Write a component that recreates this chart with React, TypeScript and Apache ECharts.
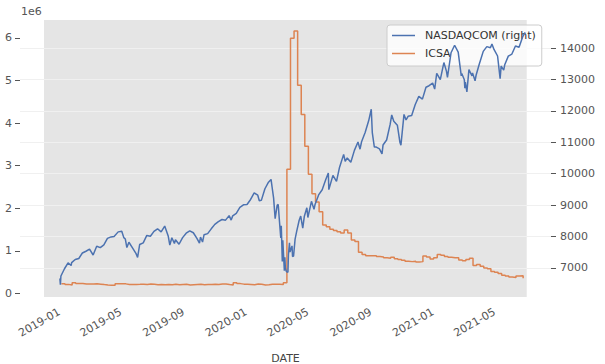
import React, { useEffect, useRef } from 'react';
import * as echarts from 'echarts';

// NASDAQCOM close (date, value)
const NASDAQ: [string, number][] = [
  ['2019-01-02', 6665], ['2019-01-03', 6463], ['2019-01-04', 6739], ['2019-01-11', 6971], ['2019-01-18', 7157],
  ['2019-01-24', 7073], ['2019-01-25', 7165], ['2019-02-01', 7264], ['2019-02-08', 7298], ['2019-02-15', 7473],
  ['2019-02-22', 7528], ['2019-03-01', 7595], ['2019-03-08', 7409], ['2019-03-15', 7689], ['2019-03-22', 7643],
  ['2019-03-29', 7729], ['2019-04-05', 7939], ['2019-04-12', 7985], ['2019-04-18', 7998], ['2019-04-26', 8146],
  ['2019-05-03', 8164], ['2019-05-07', 7963], ['2019-05-10', 7917], ['2019-05-13', 7647], ['2019-05-17', 7816],
  ['2019-05-24', 7637], ['2019-05-31', 7453], ['2019-06-03', 7333], ['2019-06-07', 7742], ['2019-06-14', 7797],
  ['2019-06-21', 8032], ['2019-06-28', 8006], ['2019-07-05', 8162], ['2019-07-12', 8244], ['2019-07-19', 8146],
  ['2019-07-26', 8330], ['2019-08-02', 8004], ['2019-08-05', 7726], ['2019-08-09', 7959], ['2019-08-14', 7774],
  ['2019-08-16', 7896], ['2019-08-23', 7752], ['2019-08-30', 7963], ['2019-09-06', 8103], ['2019-09-13', 8177],
  ['2019-09-20', 8118], ['2019-09-27', 7940], ['2019-10-02', 7785], ['2019-10-04', 7982], ['2019-10-08', 7823],
  ['2019-10-11', 8057], ['2019-10-18', 8090], ['2019-10-25', 8243], ['2019-11-01', 8386], ['2019-11-08', 8475],
  ['2019-11-15', 8541], ['2019-11-22', 8520], ['2019-11-29', 8665], ['2019-12-03', 8521], ['2019-12-06', 8656],
  ['2019-12-13', 8735], ['2019-12-20', 8925], ['2019-12-27', 9007], ['2020-01-03', 9020], ['2020-01-10', 9179],
  ['2020-01-17', 9389], ['2020-01-24', 9315], ['2020-01-27', 9139], ['2020-01-31', 9151], ['2020-02-07', 9521],
  ['2020-02-14', 9731], ['2020-02-19', 9817], ['2020-02-21', 9577], ['2020-02-24', 9221], ['2020-02-27', 8566],
  ['2020-02-28', 8567], ['2020-03-02', 9001], ['2020-03-04', 9018], ['2020-03-06', 8576], ['2020-03-09', 7950],
  ['2020-03-10', 8344], ['2020-03-12', 7201], ['2020-03-13', 7875], ['2020-03-16', 6904], ['2020-03-17', 7335],
  ['2020-03-18', 6989], ['2020-03-20', 6880], ['2020-03-23', 6860], ['2020-03-24', 7418], ['2020-03-26', 7798],
  ['2020-03-27', 7502], ['2020-03-31', 7700], ['2020-04-01', 7360], ['2020-04-03', 7373], ['2020-04-06', 7913],
  ['2020-04-09', 8153], ['2020-04-14', 8516], ['2020-04-17', 8650], ['2020-04-21', 8263], ['2020-04-24', 8634],
  ['2020-04-29', 8915], ['2020-05-01', 8605], ['2020-05-08', 9121], ['2020-05-13', 8863], ['2020-05-15', 9015],
  ['2020-05-22', 9325], ['2020-05-29', 9490], ['2020-06-05', 9814], ['2020-06-10', 10020], ['2020-06-11', 9492],
  ['2020-06-19', 9946], ['2020-06-26', 9757], ['2020-07-02', 10208], ['2020-07-10', 10617], ['2020-07-13', 10391],
  ['2020-07-17', 10503], ['2020-07-24', 10363], ['2020-07-31', 10745], ['2020-08-07', 11010], ['2020-08-11', 10782],
  ['2020-08-14', 11019], ['2020-08-21', 11311], ['2020-08-28', 11695], ['2020-09-02', 12056], ['2020-09-04', 11313],
  ['2020-09-08', 10848], ['2020-09-11', 10854], ['2020-09-18', 10793], ['2020-09-23', 10633], ['2020-09-25', 10914],
  ['2020-10-02', 11075], ['2020-10-09', 11580], ['2020-10-12', 11876], ['2020-10-16', 11672], ['2020-10-23', 11548],
  ['2020-10-28', 11005], ['2020-10-30', 10911], ['2020-11-05', 11890], ['2020-11-09', 11713], ['2020-11-13', 11829],
  ['2020-11-20', 11855], ['2020-11-27', 12206], ['2020-12-04', 12464], ['2020-12-11', 12378], ['2020-12-18', 12756],
  ['2020-12-24', 12805], ['2020-12-31', 12888], ['2021-01-04', 12698], ['2021-01-08', 13202], ['2021-01-15', 12999],
  ['2021-01-22', 13543], ['2021-01-27', 13271], ['2021-01-29', 13071], ['2021-02-05', 13856], ['2021-02-12', 14095],
  ['2021-02-19', 13874], ['2021-02-25', 13119], ['2021-02-26', 13192], ['2021-03-03', 12998], ['2021-03-04', 12723],
  ['2021-03-05', 12920], ['2021-03-08', 12609], ['2021-03-12', 13320], ['2021-03-18', 13116], ['2021-03-19', 13215],
  ['2021-03-24', 12961], ['2021-03-26', 13139], ['2021-04-01', 13480], ['2021-04-09', 13900], ['2021-04-16', 14052],
  ['2021-04-23', 14016], ['2021-04-26', 14138], ['2021-04-30', 13962], ['2021-05-07', 13752], ['2021-05-12', 13032],
  ['2021-05-14', 13430], ['2021-05-19', 13300], ['2021-05-21', 13471], ['2021-05-28', 13749], ['2021-06-04', 13814],
  ['2021-06-11', 14070], ['2021-06-18', 14030], ['2021-06-25', 14360], ['2021-06-30', 14504],
];

// ICSA weekly initial claims (thousands), weeks ending Saturday from ICSA_START
const ICSA_START = '2019-01-05';
const ICSA_2019 = [
  233, 216, 201, 253, 234, 239, 225, 226, 223, 229, 221, 211, 202, 196, 193, 230, 230, 228, 212, 211, 215, 218, 222, 216, 227, 221,
  209, 216, 207, 215, 209, 220, 209, 215, 217, 204, 210, 215, 220, 210, 214, 213, 218, 211, 225, 227, 213, 203, 252, 234, 222, 220,
];
const ICSA_2020 = [
  214, 207, 223, 217, 203, 206, 219, 220, 217, 211, 256, 2920, 5990, 6160, 4890, 4200, 3460, 2800, 2340, 2150, 1920, 1610, 1570, 1510, 1480, 1450,
  1420, 1490, 1420, 1260, 1220, 970, 920, 890, 890, 890, 870, 860, 840, 830, 850, 820, 800, 780, 760, 750, 760, 740, 750, 880, 860, 810,
];
const ICSA_2021 = [
  840, 920, 900, 870, 850, 840, 840, 790, 770, 800, 830, 660, 680, 640, 600, 580, 520, 500, 470, 430, 410, 390, 380, 410, 420, 360,
];

const X_TICKS = ['2019-01-01', '2019-05-01', '2019-09-01', '2020-01-01', '2020-05-01', '2020-09-01', '2021-01-01', '2021-05-01'];
const X_RANGE = ['2018-10-16T00:00:00Z', '2021-08-19T12:00:00Z'];
const SHADE_RANGE = ['2018-12-02T00:00:00Z', '2021-07-03T00:00:00Z'];
const LEFT_TICKS = [0, 1, 2, 3, 4, 5, 6]; // in 1e6
const LEFT_RANGE = [-0.08, 6.42]; // in 1e6
const RIGHT_TICKS = [7000, 8000, 9000, 10000, 11000, 12000, 13000, 14000];
const RIGHT_RANGE = [6070, 14900];

const FONT = 'DejaVu Sans';
const BLUE = '#4c72b0';
const ORANGE = '#dd8452';
const LINE_ICON = 'path://M0 0 H23 V1.5 H0 Z';

function fmtMonth(v: number) {
  const d = new Date(v);
  return `${d.getUTCFullYear()}-${String(d.getUTCMonth() + 1).padStart(2, '0')}`;
}

export default function App() {
  const ref = useRef<HTMLDivElement>(null);
  useEffect(() => {
    if (!ref.current) return;
    const chart = echarts.init(ref.current, undefined, { renderer: 'svg' });
    const nasdaqData = NASDAQ.map(([d, v]) => [Date.parse(d + 'T00:00:00Z'), v]);
    const icsaAll = [...ICSA_2019, ...ICSA_2020, ...ICSA_2021];
    const start = Date.parse(ICSA_START + 'T00:00:00Z');
    const icsaData = icsaAll.map((v, i) => [start + i * 7 * 86400000, v * 1000]);
    const leftMul = 1e6;

    chart.setOption({
      animation: false,
      textStyle: { fontFamily: FONT },
      grid: { left: 20, right: 54, top: 20, bottom: 67, containLabel: false, outerBoundsMode: 'none' },
      xAxis: {
        type: 'value',
        scale: true,
        min: Date.parse(X_RANGE[0]),
        max: Date.parse(X_RANGE[1]),
        axisLine: { show: false },
        axisTick: { show: false },
        splitLine: { show: false },
        axisLabel: {
          customValues: X_TICKS.map((d) => Date.parse(d + 'T00:00:00Z')),
          formatter: (v: number) => fmtMonth(v),
          rotate: 30,
          fontSize: 11,
          color: '#555555',
          margin: 14,
          fontFamily: FONT,
        },
        name: 'DATE',
        nameLocation: 'middle',
        nameGap: 56,
        nameTextStyle: { fontSize: 11, color: '#444444', fontFamily: FONT },
      },
      yAxis: [
        {
          type: 'value',
          position: 'left',
          min: LEFT_RANGE[0] * leftMul,
          max: LEFT_RANGE[1] * leftMul,
          axisLine: { show: false },
          axisTick: {
            show: true,
            length: 5,
            customValues: LEFT_TICKS.map((t) => t * leftMul),
            lineStyle: { color: '#555555', width: 1 },
          },
          splitLine: { show: false },
          axisLabel: {
            customValues: LEFT_TICKS.map((t) => t * leftMul),
            formatter: (v: number) => String(Math.round(v / leftMul)),
            fontSize: 11,
            color: '#555555',
            margin: 8,
            fontFamily: FONT,
          },
        },
        {
          type: 'value',
          position: 'right',
          z: 1,
          min: RIGHT_RANGE[0],
          max: RIGHT_RANGE[1],
          axisLine: { show: false },
          axisTick: {
            show: true,
            length: 5,
            customValues: RIGHT_TICKS,
            lineStyle: { color: '#555555', width: 1 },
          },
          splitLine: { show: true, lineStyle: { color: '#f0f0f0', width: 1 } },
          axisLabel: {
            customValues: RIGHT_TICKS,
            formatter: (v: number) => String(v),
            fontSize: 11,
            color: '#555555',
            margin: 9,
            fontFamily: FONT,
          },
        },
      ],
      legend: {
        orient: 'vertical',
        left: 387,
        top: 25,
        z: 4,
        padding: [5, 6, 7, 5],
        itemWidth: 23,
        itemHeight: 10,
        itemGap: 7,
        backgroundColor: 'rgba(255,255,255,0.8)',
        borderColor: '#cccccc',
        borderWidth: 1,
        borderRadius: 3,
        data: [
          { name: 'NASDAQCOM (right)', icon: LINE_ICON },
          { name: 'ICSA', icon: LINE_ICON },
        ],
        textStyle: { fontSize: 11, color: '#333333', fontFamily: FONT, padding: [0, 0, 0, 5] },
      },
      graphic: [
        {
          type: 'text',
          left: 21,
          top: 6,
          style: { text: '1e6', font: `11px "${FONT}"`, fill: '#555555' },
        },
      ],
      series: [
        {
          type: 'custom',
          z: 0,
          silent: true,
          xAxisIndex: 0,
          yAxisIndex: 1,
          encode: { x: [0, 1] },
          data: [[Date.parse(SHADE_RANGE[0]), Date.parse(SHADE_RANGE[1])]],
          renderItem: (params: any, api: any) => {
            const cs = params.coordSys;
            const x0 = api.coord([api.value(0), RIGHT_RANGE[0]])[0];
            const x1 = api.coord([api.value(1), RIGHT_RANGE[0]])[0];
            return {
              type: 'rect',
              shape: { x: x0, y: cs.y, width: x1 - x0, height: cs.height },
              style: { fill: '#e5e5e5' },
            };
          },
        },
        {
          name: 'NASDAQCOM (right)',
          type: 'line',
          yAxisIndex: 1,
          z: 6,
          symbol: 'none',
          showSymbol: false,
          data: nasdaqData,
          lineStyle: { color: BLUE, width: 1.5 },
          itemStyle: { color: BLUE },
        },
        {
          name: 'ICSA',
          type: 'line',
          yAxisIndex: 0,
          z: 2,
          step: 'end',
          symbol: 'none',
          showSymbol: false,
          data: icsaData,
          lineStyle: { color: ORANGE, width: 1.5 },
          itemStyle: { color: ORANGE },
        },
      ],
    });
    return () => chart.dispose();
  }, []);
  return (
    <div style={{ position: 'fixed', left: 0, top: 0, width: 605, height: 364, background: '#ffffff' }}>
      <div ref={ref} style={{ width: 605, height: 364 }} />
    </div>
  );
}
